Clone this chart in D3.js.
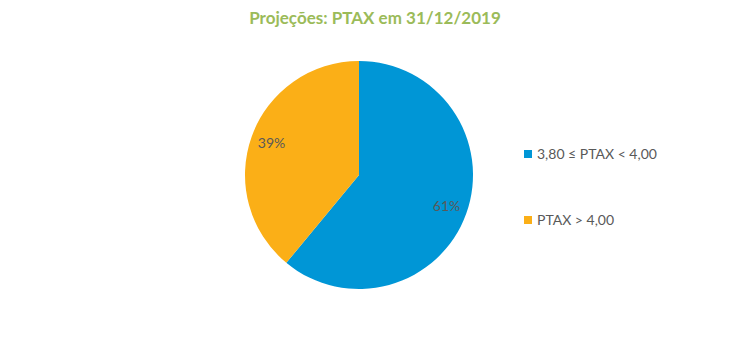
<!DOCTYPE html>
<html><head><meta charset="utf-8">
<script src="https://cdn.jsdelivr.net/npm/d3@7"></script>
<style>body{margin:0;background:#fff}</style>
</head><body>
<svg id="c" width="751" height="357"></svg>
<script>
const categories = ["3,80 \u2264 PTAX < 4,00", "PTAX > 4,00"];
const values = [61, 39];
const labels = ["61%", "39%"];
const colors = ["#0096D6", "#FBAF17"];
const title = "Projeções: PTAX em 31/12/2019";

const svg = d3.select("#c");
const font = "Lato, 'Open Sans', sans-serif";
svg.append("text").attr("x", 375).attr("y", 24).attr("text-anchor", "middle")
  .attr("font-family", font).attr("font-weight", "bold").attr("font-size", 17)
  .attr("fill", "#9BBB59").text(title);

const cx = 359, cy = 175, r = 114;
const pie = d3.pie().sort(null).value(d => d)(values);
const arc = d3.arc().innerRadius(0).outerRadius(r);
const g = svg.append("g").attr("transform", `translate(${cx},${cy})`);
g.selectAll("path").data(pie).join("path").attr("d", arc)
  .attr("fill", (d, i) => colors[i]);
const lab = d3.arc().innerRadius(93).outerRadius(93);
g.selectAll("text").data(pie).join("text")
  .attr("transform", d => `translate(${lab.centroid(d)})`)
  .attr("text-anchor", "middle").attr("dy", "0.35em")
  .attr("font-family", font).attr("font-size", 14).attr("fill", "#595959")
  .text((d, i) => labels[i]);

const legY = d3.scalePoint().domain(categories).range([154, 220]);
const lg = svg.append("g");
lg.selectAll("rect").data(categories).join("rect")
  .attr("x", 524).attr("y", d => legY(d) - 4).attr("width", 8).attr("height", 8)
  .attr("fill", (d, i) => colors[i]);
lg.selectAll("text").data(categories).join("text")
  .attr("x", 537).attr("y", d => legY(d)).attr("dy", "0.35em")
  .attr("font-family", font).attr("font-size", 14).attr("fill", "#595959")
  .text(d => d);
</script>
</body></html>
